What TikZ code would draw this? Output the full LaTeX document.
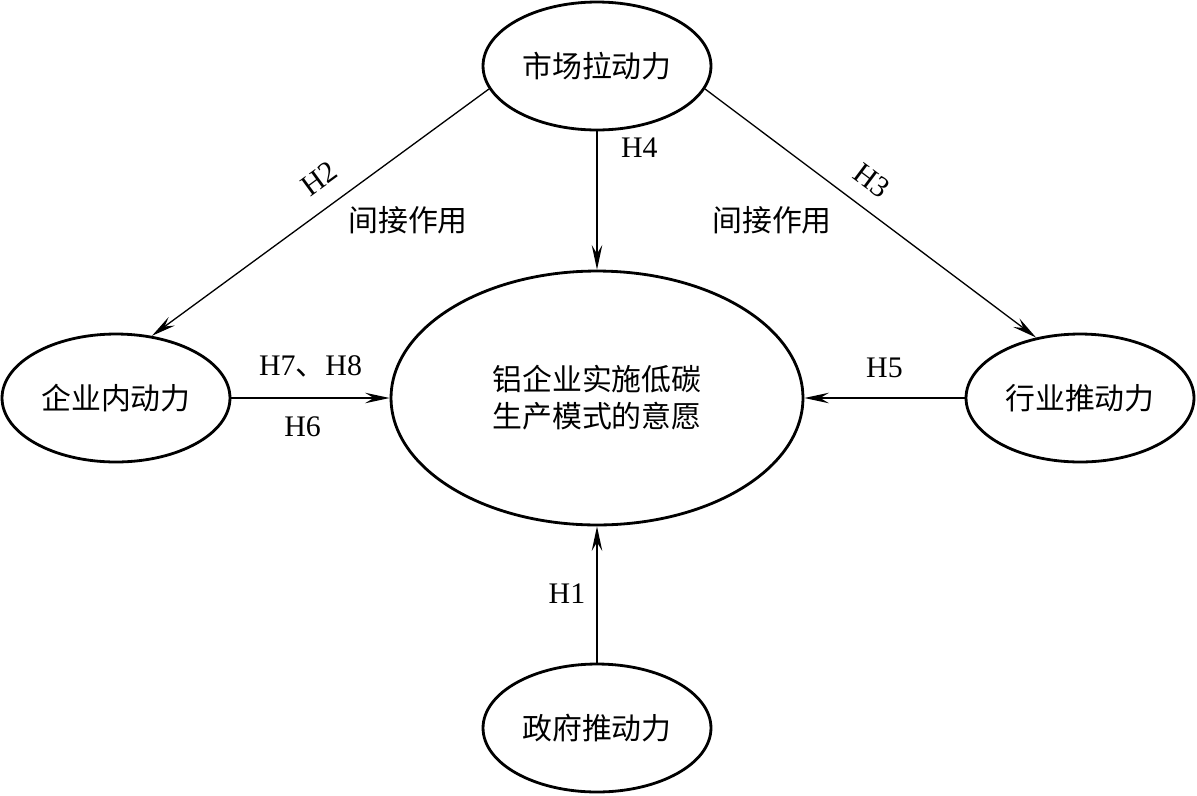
\documentclass[tikz,border=0pt]{standalone}
\usepackage{fontspec}
\setmainfont{Liberation Serif}
\newfontfamily\cjk{Noto Sans CJK SC}
\usetikzlibrary{shapes.geometric,arrows.meta}

\begin{document}
\begin{tikzpicture}[x=0.02cm,y=-0.02cm,
  force/.style={ellipse,draw,line width=1.6pt,inner sep=0pt,
    minimum width=4.56cm,minimum height=2.56cm,
    font=\cjk\fontsize{17}{21}\selectfont},
  lab/.style={font=\fontsize{17}{20}\selectfont},
  slab/.style={lab,sloped,inner sep=1pt},
  cjklab/.style={font=\cjk\fontsize{17}{20}\selectfont},
  arr/.style={line width=0.75pt,-{Stealth[length=14pt,width=6pt,inset=5pt]}},
  rarr/.style={line width=0.75pt,{Stealth[length=14pt,width=6pt,inset=5pt]}-}]
  \useasboundingbox (0,0) rectangle (1197,795);
  % driving forces
  \node[force] (market) at (597,66) {市场拉动力};
  \node[force] (inner) at (116,398) {企业内动力};
  \node[force] (industry) at (1080,398) {行业推动力};
  \node[force] (govt) at (597,728) {政府推动力};
  \node[force,minimum width=8.24cm,minimum height=5.08cm,align=center] (will) at (597,398)
    {铝企业实施低碳\\生产模式的意愿};
  % hypotheses
  \draw[rarr] (inner.60) -- node[slab,above=9pt,pos=0.545] {H2} (market.192);
  \draw[arr] (market.348) -- node[slab,above=8pt,pos=0.455] {H3} (industry.126);
  \draw[arr] (market.south) -- node[lab,right=10pt,pos=0.12] {H4} (will.north);
  \draw[arr] (inner.east) -- node[lab,above=8pt] {H7{\cjk 、}H8}
    node[lab,below=7pt,pos=0.45] {H6} (will.west);
  \draw[arr] (industry.west) -- node[lab,above=8pt] {H5} (will.east);
  \draw[arr] (govt.north) -- node[lab,left=3pt,pos=0.51] {H1} (will.south);
  \node[cjklab] (indl) at (408,220) {间接作用};
  \node[cjklab] (indr) at (772,220) {间接作用};
\end{tikzpicture}
\end{document}
